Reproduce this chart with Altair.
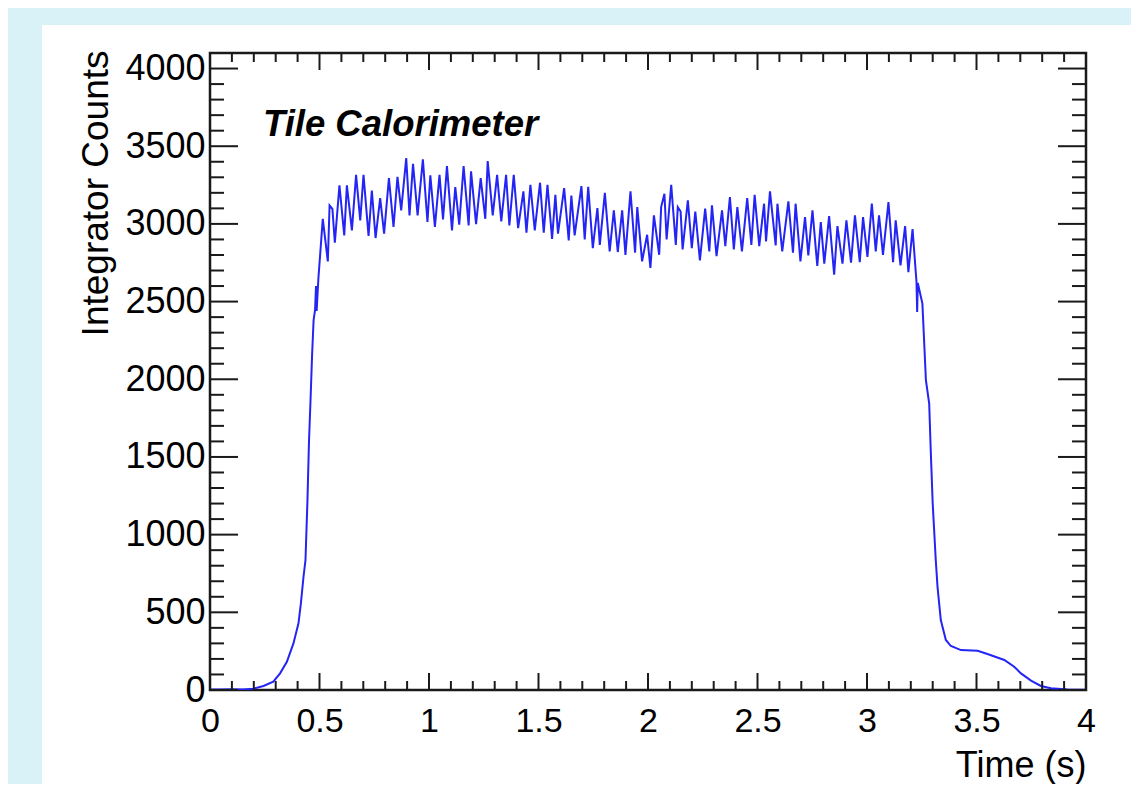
import altair as alt
import pandas as pd

# ---- data ----
time_s = [
    0.00, 0.05, 0.10, 0.15, 0.198, 0.244, 0.289, 0.320, 0.351, 0.381, 0.404, 0.415, 0.427, 0.436,
    0.445, 0.452, 0.459, 0.466, 0.473, 0.480, 0.484, 0.487, 0.495,
    0.515, 0.538, 0.546, 0.559, 0.570, 0.591, 0.613, 0.625, 0.648, 0.667, 0.686, 0.701, 0.724, 0.739,
    0.756, 0.777, 0.795, 0.817, 0.838, 0.856, 0.873, 0.896, 0.911, 0.927, 0.948, 0.972, 0.993, 1.006,
    1.027, 1.048, 1.064, 1.082, 1.105, 1.120, 1.138, 1.158, 1.181, 1.192, 1.215, 1.236, 1.257, 1.268,
    1.291, 1.311, 1.330, 1.352, 1.367, 1.387, 1.407, 1.431, 1.445, 1.463, 1.483, 1.507, 1.524, 1.541,
    1.562, 1.577, 1.589, 1.617, 1.638, 1.650, 1.665, 1.696, 1.711, 1.727, 1.748, 1.769, 1.780, 1.803,
    1.825, 1.844, 1.862, 1.882, 1.897, 1.920, 1.941, 1.951, 1.973, 1.996, 2.011, 2.027, 2.051, 2.060,
    2.075, 2.085, 2.106, 2.127, 2.136, 2.149, 2.158, 2.182, 2.200, 2.216, 2.237, 2.261, 2.280, 2.292,
    2.313, 2.338, 2.353, 2.374, 2.392, 2.408, 2.429, 2.453, 2.472, 2.487, 2.508, 2.530, 2.539, 2.557,
    2.583, 2.591, 2.613, 2.641, 2.662, 2.674, 2.696, 2.717, 2.732, 2.751, 2.773, 2.789, 2.805, 2.827,
    2.850, 2.865, 2.888, 2.906, 2.927, 2.945, 2.967, 2.982, 3.002, 3.022, 3.040, 3.055, 3.073, 3.098,
    3.119, 3.131, 3.153, 3.174, 3.189, 3.208,
    3.226, 3.229, 3.232, 3.253, 3.269, 3.284, 3.291, 3.300, 3.314, 3.322, 3.337, 3.360, 3.383, 3.429,
    3.505, 3.550, 3.627, 3.672, 3.703, 3.749, 3.794, 3.840, 3.916, 4.000,
]
counts = [
    4, 3, 5, 4, 8, 26, 54, 107, 182, 300, 429, 557, 729, 836,
    1220, 1600, 1865, 2150, 2380, 2450, 2600, 2440, 2650,
    3033, 2759, 3119, 3097, 2879, 3248, 2926, 3248, 2958, 3316, 3023, 3316, 2922, 3215,
    2909, 3166, 2937, 3295, 2980, 3303, 3087, 3424, 3055, 3387, 3055, 3415, 3012, 3312,
    2980, 3316, 3029, 3372, 2958, 3237, 2995, 3372, 2990, 3338, 2999, 3295, 3033, 3405,
    3055, 3316, 3016, 3316, 2990, 3316, 2973, 3209, 2943, 3252, 2958, 3265, 2943, 3252,
    2904, 3187, 2937, 3230, 2894, 3183, 2926, 3243, 2900, 3239, 2844, 3102, 2865, 3200,
    2823, 3087, 2819, 3087, 2801, 3209, 2815, 3108, 2759, 2930, 2716, 3055, 2801, 3108,
    3194, 2900, 3252, 2865, 3108, 3080, 2836, 3151, 2844, 3080, 2765, 3098, 2823, 3119,
    2793, 3087, 2857, 3173, 2836, 3108, 2823, 3166, 2865, 3187, 2857, 3130, 2887, 3209,
    2862, 3130, 2823, 3145, 2815, 3130, 2759, 3044, 2797, 3087, 2729, 3012, 2744, 3050,
    2673, 2986, 2744, 3023, 2750, 3055, 2754, 3044, 2787, 3130, 2823, 3055, 2801, 3140,
    2754, 3023, 2733, 2986, 2690, 2967,
    2626, 2433, 2620, 2487, 1994, 1844, 1543, 1200, 836, 664, 450, 322, 283, 257,
    253, 232, 193, 150, 107, 60, 26, 11, 4, 2,
]

x_label_values = [0, 0.5, 1, 1.5, 2, 2.5, 3, 3.5, 4]
y_label_values = [0, 500, 1000, 1500, 2000, 2500, 3000, 3500, 4000]
x_minor_ticks = [round(i * 0.1, 1) for i in range(41) if i % 5]
y_minor_ticks = [i * 100 for i in range(42) if i % 5]

annotation = "Tile Calorimeter"
x_title = "Time (s)"
y_title = "Integrator Counts"

# ---- layout ----
W, H = 876, 637
X_DOMAIN = [0, 4]
Y_DOMAIN = [0, 4100]
FONT = "Liberation Sans"
LINE_COLOR = "#2424f5"
FRAME = "#1a1a1a"
CYAN = "#d9f2f7"

xs = alt.Scale(domain=X_DOMAIN, nice=False, zero=False)
ys = alt.Scale(domain=Y_DOMAIN, nice=False, zero=False)

X_AXIS = alt.Axis(
    values=x_label_values, format="~g", ticks=False, domain=False, grid=False,
    labelFont=FONT, labelFontSize=34, labelColor="black", labelPadding=14,
    labelFlush=False, labelOverlap=False,
    title=x_title, titleFont=FONT, titleFontSize=36, titleFontWeight="normal",
    titleColor="black", titleAlign="right", titleAnchor="end", titleBaseline="alphabetic",
    titleX=W, titleY=86)
Y_AXIS = alt.Axis(
    values=y_label_values, format="d", ticks=False, domain=False, grid=False,
    labelFont=FONT, labelFontSize=36, labelColor="black", labelPadding=5,
    labelFlush=False, labelOverlap=False,
    title=y_title, titleFont=FONT, titleFontSize=37, titleFontWeight="normal",
    titleColor="black", titleAngle=270, titleAlign="right", titleBaseline="alphabetic",
    titleX=-103, titleY=-3)

df = pd.DataFrame({"time": time_s, "counts": counts})

one = pd.DataFrame({"p": [0]})
strip_left = alt.Chart(one).mark_rect(color=CYAN).encode(
    x=alt.value(-210), x2=alt.value(-168), y=alt.value(-60), y2=alt.value(H + 200))
strip_top = alt.Chart(one).mark_rect(color=CYAN).encode(
    x=alt.value(-210), x2=alt.value(W + 80), y=alt.value(-60), y2=alt.value(-28))

line = alt.Chart(df).mark_line(color=LINE_COLOR, strokeWidth=2, clip=True).encode(
    x=alt.X("time:Q", scale=xs, axis=X_AXIS),
    y=alt.Y("counts:Q", scale=ys, axis=Y_AXIS),
    order=alt.Order("time:Q"),
)


def xticks(vals, length):
    d = pd.DataFrame({"time": vals})
    bottom = alt.Chart(d).mark_rule(color=FRAME, strokeWidth=2).encode(
        x=alt.X("time:Q", scale=xs, axis=X_AXIS), y=alt.value(H), y2=alt.value(H - length))
    top = alt.Chart(d).mark_rule(color=FRAME, strokeWidth=2).encode(
        x=alt.X("time:Q", scale=xs, axis=X_AXIS), y=alt.value(0), y2=alt.value(length))
    return [bottom, top]


def yticks(vals, length):
    d = pd.DataFrame({"counts": vals})
    left = alt.Chart(d).mark_rule(color=FRAME, strokeWidth=2).encode(
        y=alt.Y("counts:Q", scale=ys, axis=Y_AXIS), x=alt.value(0), x2=alt.value(length))
    right = alt.Chart(d).mark_rule(color=FRAME, strokeWidth=2).encode(
        y=alt.Y("counts:Q", scale=ys, axis=Y_AXIS), x=alt.value(W), x2=alt.value(W - length))
    return [left, right]


ticks = (xticks(x_label_values, 17) + xticks(x_minor_ticks, 9)
         + yticks(y_label_values, 28) + yticks(y_minor_ticks, 14))

label = alt.Chart(pd.DataFrame({"t": [annotation]})).mark_text(
    font=FONT, fontSize=36.5, fontStyle="italic", fontWeight="bold", color="black",
    align="left", baseline="alphabetic"
).encode(text="t:N", x=alt.value(53), y=alt.value(83))

chart = alt.layer(line, *ticks, strip_left, strip_top, label).properties(
    width=W, height=H,
    autosize=alt.AutoSizeParams(type="none"),
    padding={"left": 202, "top": 45, "right": 45, "bottom": 94},
).configure(background="white").configure_view(stroke=FRAME, strokeWidth=2.5)

chart.save("out.html", embed_options={"renderer": "svg", "actions": False})
